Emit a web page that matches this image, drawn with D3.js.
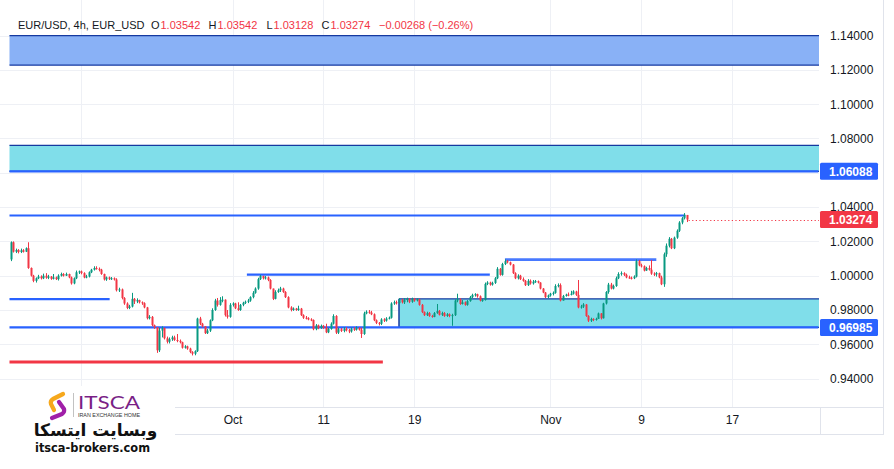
<!DOCTYPE html>
<html><head><meta charset="utf-8">
<script src="https://cdn.jsdelivr.net/npm/d3@7/dist/d3.min.js"></script>
<style>body{margin:0;background:#fff}svg{display:block;font-family:"Liberation Sans",Arial,sans-serif}</style>
</head><body><svg id="chart" width="894" height="469"></svg>
<script>
// ---------- DATA (EUR/USD 4h candles) ----------
const firstOpen = 1.0095;
const closes = [1.0195,1.0140,1.0150,1.0138,1.0148,1.0140,1.0160,1.0045,1.0000,0.9970,
0.9985,0.9995,0.9985,1.0000,0.9988,0.9995,0.9982,0.9990,0.9980,1.0000,
1.0010,1.0000,1.0010,0.9990,0.9955,0.9985,1.0020,1.0025,1.0015,0.9990,
0.9995,1.0020,1.0035,1.0045,1.0040,1.0035,1.0010,0.9978,0.9990,0.9982,
0.9985,0.9978,0.9915,0.9920,0.9870,0.9838,0.9812,0.9820,0.9865,0.9850,
0.9858,0.9845,0.9840,0.9815,0.9752,0.9760,0.9712,0.9700,0.9565,0.9680,
0.9695,0.9635,0.9615,0.9630,0.9640,0.9625,0.9620,0.9612,0.9580,0.9588,
0.9575,0.9555,0.9545,0.9560,0.9750,0.9720,0.9705,0.9665,0.9680,0.9740,
0.9800,0.9855,0.9830,0.9858,0.9860,0.9770,0.9760,0.9830,0.9838,0.9810,
0.9800,0.9830,0.9842,0.9848,0.9855,0.9875,0.9900,0.9925,0.9980,0.9998,
0.9985,0.9990,0.9975,0.9925,0.9865,0.9905,0.9915,0.9925,0.9905,0.9875,
0.9815,0.9800,0.9808,0.9800,0.9808,0.9770,0.9755,0.9752,0.9745,0.9742,
0.9688,0.9710,0.9695,0.9708,0.9698,0.9670,0.9690,0.9720,0.9765,0.9668,
0.9688,0.9678,0.9690,0.9682,0.9675,0.9690,0.9685,0.9695,0.9685,0.9660,
0.9780,0.9790,0.9785,0.9775,0.9740,0.9725,0.9720,0.9745,0.9738,0.9750,
0.9755,0.9838,0.9845,0.9840,0.9860,0.9845,0.9858,0.9865,0.9848,0.9865,
0.9855,0.9862,0.9830,0.9788,0.9770,0.9782,0.9765,0.9760,0.9782,0.9795,
0.9772,0.9782,0.9765,0.9775,0.9765,0.9770,0.9855,0.9862,0.9835,0.9845,
0.9830,0.9852,0.9875,0.9888,0.9892,0.9880,0.9855,0.9858,0.9952,0.9960,
0.9948,0.9958,0.9985,1.0040,1.0005,1.0068,1.0085,1.0078,1.0065,1.0015,
0.9985,1.0000,0.9980,0.9970,0.9945,0.9970,0.9955,0.9965,0.9968,0.9960,
0.9925,0.9902,0.9875,0.9885,0.9895,0.9900,0.9940,0.9945,0.9855,0.9882,
0.9890,0.9888,0.9895,0.9908,0.9888,0.9815,0.9820,0.9832,0.9765,0.9738,
0.9748,0.9742,0.9748,0.9780,0.9752,0.9838,0.9905,0.9948,0.9925,0.9940,
0.9985,1.0010,1.0015,1.0005,0.9990,0.9988,0.9985,0.9995,1.0085,1.0060,
1.0055,1.0030,1.0045,1.0035,1.0012,1.0008,1.0015,0.9990,0.9950,1.0125,
1.0175,1.0215,1.0160,1.0222,1.0262,1.0310,1.0335,1.03542,1.03274];
const highs = [1.0200,1.0200,1.0158,1.0155,1.0158,1.0155,1.0165,1.0195,1.0048,1.0005,
0.9990,1.0005,1.0002,1.0012,1.0015,1.0005,0.9998,1.0010,0.9995,1.0008,
1.0018,1.0015,1.0018,1.0012,0.9995,0.9990,1.0030,1.0030,1.0030,1.0020,
1.0005,1.0025,1.0040,1.0055,1.0055,1.0048,1.0040,1.0012,0.9995,0.9995,
0.9992,0.9990,0.9985,0.9930,0.9925,0.9875,0.9845,0.9830,0.9900,0.9870,
0.9868,0.9860,0.9850,0.9845,0.9818,0.9770,0.9765,0.9715,0.9700,0.9695,
0.9705,0.9698,0.9645,0.9640,0.9650,0.9650,0.9660,0.9628,0.9615,0.9595,
0.9592,0.9580,0.9560,0.9565,0.9755,0.9760,0.9725,0.9705,0.9690,0.9745,
0.9810,0.9865,0.9870,0.9875,0.9880,0.9862,0.9800,0.9840,0.9845,0.9842,
0.9845,0.9835,0.9848,0.9855,0.9865,0.9880,0.9910,0.9932,0.9988,1.0005,
1.0000,0.9998,0.9995,0.9980,0.9925,0.9915,0.9925,0.9935,0.9930,0.9910,
0.9880,0.9822,0.9815,0.9812,0.9825,0.9812,0.9775,0.9765,0.9758,0.9752,
0.9745,0.9718,0.9715,0.9715,0.9712,0.9720,0.9695,0.9728,0.9775,0.9770,
0.9695,0.9695,0.9700,0.9700,0.9690,0.9698,0.9700,0.9705,0.9700,0.9698,
0.9790,0.9798,0.9800,0.9795,0.9780,0.9745,0.9730,0.9752,0.9752,0.9758,
0.9762,0.9845,0.9855,0.9855,0.9868,0.9865,0.9870,0.9872,0.9868,0.9872,
0.9870,0.9868,0.9865,0.9835,0.9792,0.9790,0.9788,0.9772,0.9788,0.9835,
0.9800,0.9790,0.9788,0.9782,0.9780,0.9778,0.9862,0.9895,0.9868,0.9858,
0.9850,0.9858,0.9882,0.9895,0.9898,0.9895,0.9885,0.9865,0.9960,0.9968,
0.9965,0.9965,0.9992,1.0050,1.0045,1.0075,1.0095,1.0092,1.0082,1.0068,
1.0020,1.0008,1.0005,0.9990,0.9975,0.9980,0.9978,0.9975,0.9975,0.9972,
0.9962,0.9928,0.9905,0.9890,0.9900,0.9908,0.9950,0.9955,0.9955,0.9888,
0.9895,0.9902,0.9912,0.9915,0.9912,0.9975,0.9830,0.9840,0.9835,0.9770,
0.9755,0.9752,0.9755,0.9785,0.9782,0.9842,0.9910,0.9958,0.9958,0.9948,
0.9995,1.0020,1.0025,1.0020,1.0012,1.0000,0.9995,1.0002,1.0095,1.0092,
1.0070,1.0060,1.0052,1.0060,1.0092,1.0020,1.0022,1.0018,1.0000,1.0135,
1.0188,1.0225,1.0220,1.0228,1.0270,1.0318,1.0342,1.0365,1.03542];
const lows = [1.0085,1.0135,1.0132,1.0130,1.0132,1.0135,1.0138,1.0040,0.9995,0.9962,
0.9960,0.9980,0.9978,0.9980,0.9982,0.9980,0.9976,0.9978,0.9975,0.9972,
0.9995,0.9995,0.9998,0.9985,0.9948,0.9950,0.9980,1.0010,1.0008,0.9985,
0.9985,0.9990,1.0015,1.0030,1.0035,1.0025,1.0005,0.9972,0.9970,0.9975,
0.9975,0.9972,0.9908,0.9905,0.9862,0.9830,0.9805,0.9805,0.9815,0.9835,
0.9840,0.9838,0.9830,0.9810,0.9745,0.9745,0.9705,0.9690,0.9550,0.9555,
0.9640,0.9628,0.9605,0.9605,0.9620,0.9620,0.9612,0.9605,0.9575,0.9575,
0.9568,0.9548,0.9535,0.9536,0.9555,0.9712,0.9698,0.9660,0.9660,0.9672,
0.9735,0.9795,0.9820,0.9825,0.9845,0.9762,0.9750,0.9755,0.9820,0.9805,
0.9795,0.9795,0.9822,0.9835,0.9840,0.9848,0.9868,0.9895,0.9918,0.9975,
0.9978,0.9978,0.9968,0.9920,0.9858,0.9862,0.9900,0.9905,0.9900,0.9870,
0.9810,0.9792,0.9795,0.9795,0.9795,0.9765,0.9748,0.9745,0.9740,0.9735,
0.9682,0.9682,0.9688,0.9690,0.9690,0.9665,0.9665,0.9685,0.9715,0.9660,
0.9660,0.9672,0.9670,0.9675,0.9665,0.9668,0.9678,0.9680,0.9680,0.9637,
0.9655,0.9775,0.9778,0.9770,0.9735,0.9718,0.9710,0.9712,0.9730,0.9732,
0.9745,0.9750,0.9830,0.9832,0.9835,0.9838,0.9835,0.9845,0.9840,0.9842,
0.9848,0.9850,0.9825,0.9782,0.9765,0.9765,0.9760,0.9755,0.9758,0.9778,
0.9768,0.9765,0.9760,0.9760,0.9758,0.9708,0.9765,0.9845,0.9830,0.9832,
0.9825,0.9825,0.9848,0.9870,0.9878,0.9872,0.9850,0.9848,0.9855,0.9945,
0.9942,0.9942,0.9952,0.9980,1.0000,1.0000,1.0062,1.0072,1.0060,1.0010,
0.9980,0.9978,0.9975,0.9965,0.9940,0.9940,0.9948,0.9948,0.9958,0.9955,
0.9920,0.9898,0.9870,0.9868,0.9878,0.9885,0.9895,0.9932,0.9850,0.9855,
0.9878,0.9880,0.9885,0.9890,0.9882,0.9810,0.9808,0.9812,0.9760,0.9730,
0.9730,0.9735,0.9738,0.9748,0.9745,0.9750,0.9832,0.9895,0.9920,0.9920,
0.9935,0.9980,1.0000,0.9998,0.9985,0.9982,0.9978,0.9980,0.9990,1.0055,
1.0048,1.0025,1.0028,1.0030,1.0005,0.9998,0.9995,0.9985,0.9945,0.9935,
1.0110,1.0165,1.0155,1.0155,1.0215,1.0255,1.0300,1.0328,1.03128];

const symbolTitle = "EUR/USD, 4h, EUR_USD";
const priceTicks = [0.94,0.96,0.98,1.00,1.02,1.04,1.06,1.08,1.10,1.12,1.14];
const timeTickIdx = [88,124,160,214,250,286];
const timeTickLabels = ["Oct","11","19","Nov","9","17"];
const gridOnlyIdx = [28];
// drawn levels: price and bar-index extents
const zoneTops = [1.1400, 1.0760, 0.9865];
const zoneBottoms = [1.1228, 1.06088, 0.96985];
const zoneStarts = [-0.4, -0.4, 154];
const zoneFills = ["#89b1f6", "#80deea", "#80deea"];
const blueLevels = [1.06088, 0.96985, 1.0351, 0.9863, 1.0006, 1.0094];
const blueStarts = [-0.4, -0.4, -0.4, -0.4, 93.7, 196];
const blueEnds = [320.2, 320.2, 267.5, 39.3, 190, 256];
const redLevel = 0.9497, redEnd = 147.6;
const axisBadges = [1.06088, 1.03274, 0.96985];
const badgeColors = ["#2962ff", "#f23645", "#2962ff"];

// ---------- SCALES ----------
const svg = d3.select("#chart");
const W = 894, H = 469;
const plotL = 10, plotR = 819, plotB = 407;
const x = d3.scaleLinear().domain([88, 286]).range([232.5, 732]);
const y = d3.scaleLinear().domain([0.94, 1.14]).range([378.6, 35.6]);
const up = "#089981", dn = "#f23645", txt = "#131722", grid = "#eef0f5";

const opens = closes.map((c, i) => i === 0 ? firstOpen : closes[i - 1]);

svg.append("rect").attr("width", W).attr("height", H).attr("fill", "#fff");

// grid
const g = svg.append("g");
g.selectAll(".hg").data(priceTicks).join("line")
  .attr("x1", 0).attr("x2", plotR).attr("y1", d => Math.round(y(d)) + 0.5).attr("y2", d => Math.round(y(d)) + 0.5)
  .attr("stroke", grid);
g.selectAll(".vg").data(gridOnlyIdx.concat(timeTickIdx)).join("line")
  .attr("x1", d => Math.round(x(d)) + 0.5).attr("x2", d => Math.round(x(d)) + 0.5)
  .attr("y1", 0).attr("y2", plotB).attr("stroke", grid);

// zones
const plot = svg.append("g");
zoneTops.forEach((t, k) => {
  const x0 = x(zoneStarts[k]), x1 = plotR;
  plot.append("rect").attr("x", x0).attr("y", y(t)).attr("width", x1 - x0)
    .attr("height", y(zoneBottoms[k]) - y(t)).attr("fill", zoneFills[k]);
  plot.append("line").attr("x1", x0).attr("x2", x1).attr("y1", y(t)).attr("y2", y(t))
    .attr("stroke", "#1539a0").attr("stroke-width", 1.3);
  plot.append("line").attr("x1", x0).attr("x2", x1).attr("y1", y(zoneBottoms[k])).attr("y2", y(zoneBottoms[k]))
    .attr("stroke", "#1539a0").attr("stroke-width", 1.3);
  if (zoneStarts[k] > 0) plot.append("line").attr("x1", x0).attr("x2", x0)
    .attr("y1", y(t)).attr("y2", y(zoneBottoms[k])).attr("stroke", "#1539a0").attr("stroke-width", 1.5);
});
blueLevels.forEach((p, k) => {
  plot.append("line").attr("x1", x(blueStarts[k])).attr("x2", x(blueEnds[k]))
    .attr("y1", y(p)).attr("y2", y(p)).attr("stroke", "#2962ff").attr("stroke-width", k === 5 ? 2.6 : 2.2)
    .attr("opacity", k === 5 ? 0.85 : 1);
});
plot.append("line").attr("x1", x(-0.4)).attr("x2", x(redEnd)).attr("y1", y(redLevel)).attr("y2", y(redLevel))
  .attr("stroke", "#f23645").attr("stroke-width", 3);

// last price dotted line
const lastI = closes.length - 1;
plot.append("line").attr("x1", x(lastI) + 2).attr("x2", plotR)
  .attr("y1", Math.round(y(closes[lastI])) + 0.5).attr("y2", Math.round(y(closes[lastI])) + 0.5)
  .attr("stroke", dn).attr("stroke-dasharray", "1.2,2.4");

// candles
const cg = svg.append("g");
const idx = d3.range(closes.length);
cg.selectAll(".wick").data(idx).join("line")
  .attr("x1", i => Math.round(x(i)) + 0.5).attr("x2", i => Math.round(x(i)) + 0.5)
  .attr("y1", i => y(highs[i])).attr("y2", i => y(lows[i]))
  .attr("stroke", i => closes[i] >= opens[i] ? up : dn).attr("stroke-width", 1);
cg.selectAll(".body").data(idx).join("rect")
  .attr("x", i => Math.round(x(i)) - 0.5).attr("width", 2)
  .attr("y", i => y(Math.max(opens[i], closes[i])))
  .attr("height", i => Math.max(1, Math.abs(y(opens[i]) - y(closes[i]))))
  .attr("fill", i => closes[i] >= opens[i] ? up : dn);

// borders
svg.append("line").attr("x1", 0).attr("x2", 884).attr("y1", plotB + 0.5).attr("y2", plotB + 0.5).attr("stroke", "#e0e3eb");
svg.append("line").attr("x1", 0).attr("x2", 884).attr("y1", 434.5).attr("y2", 434.5).attr("stroke", "#e0e3eb");
svg.append("line").attr("x1", 883.5).attr("x2", 883.5).attr("y1", 0).attr("y2", 435).attr("stroke", "#e0e3eb");
svg.append("line").attr("x1", plotR + 1.5).attr("x2", plotR + 1.5).attr("y1", plotB).attr("y2", 435).attr("stroke", "#e0e3eb");

// price axis
const ya = svg.append("g").attr("transform", `translate(${plotR + 2},0)`)
  .call(d3.axisRight(y).tickValues(priceTicks).tickFormat(d3.format(".5f")).tickSize(0).tickPadding(9));
ya.select(".domain").remove();
ya.selectAll("text").attr("font-size", 12).attr("fill", txt).attr("font-family", "Liberation Sans, Arial, sans-serif");

axisBadges.forEach((p, k) => {
  const cy = y(p);
  svg.append("rect").attr("x", plotR + 1).attr("y", cy - 8.5).attr("width", 58).attr("height", 17)
    .attr("rx", 1.5).attr("fill", badgeColors[k]);
  svg.append("text").attr("x", plotR + 10).attr("y", cy + 4.3).attr("fill", "#fff")
    .attr("font-size", 12).attr("font-weight", "bold").text(d3.format(".5f")(p));
});

// time axis
const xa = svg.append("g").attr("transform", `translate(0,${plotB})`)
  .call(d3.axisBottom(x).tickValues(timeTickIdx).tickFormat((d, i) => timeTickLabels[i]).tickSize(0).tickPadding(8));
xa.select(".domain").remove();
xa.selectAll("text").attr("font-size", 12).attr("fill", txt).attr("font-family", "Liberation Sans, Arial, sans-serif");

// header legend
const f5 = d3.format(".5f");
const o = opens[lastI], hh = highs[lastI], ll = lows[lastI], cc = closes[lastI];
const chg = cc - o;
const legend = [
  [symbolTitle, 18, txt], ["O", 151, txt], [f5(o), 160.5, dn],
  ["H", 208.5, txt], [f5(hh), 217.5, dn], ["L", 266.5, txt], [f5(ll), 273.5, dn],
  ["C", 321.5, txt], [f5(cc), 330.5, dn],
  [`${d3.format("+.5f")(chg).replace("+", "")} (${d3.format(".2f")(chg / o * 100)}%)`, 379, dn]
];
legend.forEach(([t, xx, col]) => {
  svg.append("text").attr("x", xx).attr("y", 29).attr("font-size", 11).attr("fill", col).text(t);
});

// logo block
const logo = svg.append("g");
logo.append("rect").attr("x", 0).attr("y", 386).attr("width", 175).attr("height", 72).attr("fill", "#fff");
logo.append("path").attr("d", "M63 394 L53 399 Q50 401 51 404 L54 410").attr("fill", "none")
  .attr("stroke", "#f6a81c").attr("stroke-width", 4.2).attr("stroke-linecap", "round").attr("stroke-linejoin", "round");
logo.append("path").attr("d", "M59 402 L64 409 Q65 412 62 414 L52 418").attr("fill", "none")
  .attr("stroke", "#a01fa8").attr("stroke-width", 4.2).attr("stroke-linecap", "round").attr("stroke-linejoin", "round");
logo.append("line").attr("x1", 73.5).attr("x2", 73.5).attr("y1", 393).attr("y2", 417).attr("stroke", "#999").attr("stroke-width", 0.6);
logo.append("text").attr("x", 78).attr("y", 409).attr("font-size", 17).attr("font-family", "Lato, sans-serif")
  .attr("fill", "#7a1f86").attr("textLength", 62).attr("lengthAdjust", "spacingAndGlyphs").text("ITSCA");
logo.append("text").attr("x", 78).attr("y", 417).attr("font-size", 4.6).attr("fill", "#333")
  .attr("textLength", 62).attr("lengthAdjust", "spacingAndGlyphs").text("IRAN EXCHANGE HOME");
logo.append("text").attr("x", 95.5).attr("y", 436).attr("text-anchor", "middle").attr("font-size", 17)
  .attr("font-weight", "bold").attr("font-family", "DejaVu Sans, sans-serif").attr("fill", "#111").text("وبسایت ایتسکا");
logo.append("text").attr("x", 35).attr("y", 452).attr("font-size", 13).attr("font-weight", "bold")
  .attr("font-family", "DejaVu Sans, sans-serif").attr("fill", "#111")
  .attr("textLength", 115).attr("lengthAdjust", "spacingAndGlyphs").text("itsca-brokers.com");
</script></body></html>
